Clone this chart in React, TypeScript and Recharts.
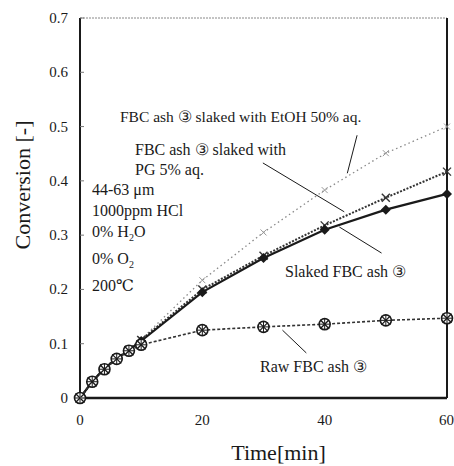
import { Label, Line, LineChart, ReferenceLine, XAxis, YAxis } from 'recharts'

const TIME = [0, 2, 4, 6, 8, 10, 20, 30, 40, 50, 60]
const RAW = [0, 0.03, 0.053, 0.072, 0.087, 0.098, 0.125, 0.131, 0.136, 0.143, 0.147]
const SLAKED = [0, 0.03, 0.055, 0.072, 0.088, 0.105, 0.195, 0.258, 0.31, 0.347, 0.376]
const PG = [0, 0.03, 0.055, 0.073, 0.089, 0.107, 0.2, 0.262, 0.318, 0.369, 0.417]
const ETOH = [0, 0.03, 0.055, 0.074, 0.09, 0.108, 0.217, 0.305, 0.383, 0.451, 0.5]

const X_TICKS = [0, 20, 40, 60]
const Y_TICKS = [0, 0.1, 0.2, 0.3, 0.4, 0.5, 0.6, 0.7]

// leader lines, in data units
const LEADERS = [
  [{ x: 45.3, y: 0.484 }, { x: 43.7, y: 0.414 }],
  [{ x: 29.9, y: 0.433 }, { x: 43.2, y: 0.343 }],
  [{ x: 42.4, y: 0.315 }, { x: 49.3, y: 0.267 }],
  [{ x: 33.1, y: 0.125 }, { x: 37.0, y: 0.083 }],
]

const data = TIME.map((t, i) => ({ t, raw: RAW[i], slaked: SLAKED[i], pg: PG[i], etoh: ETOH[i] }))

const SERIF = '"Liberation Serif", "DejaVu Serif", serif'
const INK = '#1a1a1a'

const YTick = (props: any) => {
  const { x, y, payload } = props
  const v = payload.value
  return (
    <g>
      <text x={x} y={y} dy={5} textAnchor="end" fontSize={15} fontFamily={SERIF} fill={INK}>
        {v === 0 ? '0' : v.toFixed(1)}
      </text>
      <line x1={x + 12} x2={x + 16} y1={y} y2={y} stroke="#777" strokeWidth={1} />
    </g>
  )
}

const RawDot = (p: any) => {
  const { cx, cy } = p
  if (cx == null || cy == null) return null
  const r = 5.5
  return (
    <g key={`raw-${p.index}`}>
      <circle cx={cx} cy={cy} r={r} fill="#fff" stroke={INK} strokeWidth={1.6} />
      <line x1={cx - r + 1} y1={cy - r + 1} x2={cx + r - 1} y2={cy + r - 1} stroke={INK} strokeWidth={1.3} />
      <line x1={cx - r + 1} y1={cy + r - 1} x2={cx + r - 1} y2={cy - r + 1} stroke={INK} strokeWidth={1.3} />
      <line x1={cx - r} y1={cy} x2={cx + r} y2={cy} stroke={INK} strokeWidth={1} />
      <line x1={cx} y1={cy - r} x2={cx} y2={cy + r} stroke={INK} strokeWidth={1} />
    </g>
  )
}

const Diamond = (p: any) => {
  const { cx, cy } = p
  if (cx == null || cy == null) return null
  const s = 5
  return (
    <polygon
      key={`dia-${p.index}`}
      points={`${cx},${cy - s} ${cx + s},${cy} ${cx},${cy + s} ${cx - s},${cy}`}
      fill={INK}
    />
  )
}

const makeCross = (size: number, color: string, w: number, tag: string) => (p: any) => {
  const { cx, cy } = p
  if (cx == null || cy == null) return null
  return (
    <g key={`${tag}-${p.index}`}>
      <line x1={cx - size} y1={cy - size} x2={cx + size} y2={cy + size} stroke={color} strokeWidth={w} />
      <line x1={cx - size} y1={cy + size} x2={cx + size} y2={cy - size} stroke={color} strokeWidth={w} />
    </g>
  )
}

const PgDot = makeCross(4, '#333', 1.4, 'pg')
const EtohDot = makeCross(3, '#999', 1, 'et')

const txt = { position: 'absolute' as const, fontFamily: SERIF, fontSize: 16, color: INK, whiteSpace: 'nowrap' as const }

export default function App() {
  return (
    <div style={{ position: 'absolute', left: 0, top: 0, width: 454, height: 466, background: '#fff' }}>
      <LineChart width={454} height={466} data={data} margin={{ top: 18, right: 7, left: 0, bottom: 0 }}>
        <XAxis
          dataKey="t"
          type="number"
          domain={[0, 60]}
          ticks={X_TICKS}
          height={68}
          tickSize={14}
          tickMargin={2}
          tickLine={false}
          axisLine={{ stroke: INK, strokeWidth: 2.5 }}
          tick={{ fill: INK, fontSize: 15, fontFamily: SERIF }}
        >
          <Label value="Time[min]" position="insideBottom" offset={6} dx={15} fontSize={22} fontFamily={SERIF} fill={INK} />
        </XAxis>
        <YAxis
          type="number"
          domain={[0, 0.7]}
          ticks={Y_TICKS}
          width={80}
          tickSize={10}
          tickMargin={2}
          tickLine={false}
          axisLine={{ stroke: INK, strokeWidth: 2 }}
          tick={<YTick />}
          label={{
            content: () => (
              <text
                x={22}
                y={185}
                transform="rotate(-90, 22, 185)"
                textAnchor="middle"
                dominantBaseline="central"
                fontSize={22}
                fontFamily={SERIF}
                fill={INK}
              >
                Conversion [-]
              </text>
            ),
          }}
        />
        <ReferenceLine y={0.7} stroke="#888" strokeWidth={1} strokeDasharray="2 1" />
        <ReferenceLine x={60} stroke={INK} strokeWidth={2} />
        {LEADERS.map((seg, i) => (
          <ReferenceLine key={i} segment={seg} stroke={INK} strokeWidth={1} />
        ))}
        <Line
          dataKey="etoh"
          type="linear"
          stroke="#888"
          strokeWidth={1.3}
          strokeDasharray="1.5 3"
          dot={EtohDot}
          activeDot={false}
          isAnimationActive={false}
        />
        <Line
          dataKey="pg"
          type="linear"
          stroke="#333"
          strokeWidth={2}
          strokeDasharray="2 1.5"
          dot={PgDot}
          activeDot={false}
          isAnimationActive={false}
        />
        <Line
          dataKey="slaked"
          type="linear"
          stroke={INK}
          strokeWidth={2.2}
          dot={Diamond}
          activeDot={false}
          isAnimationActive={false}
        />
        <Line
          dataKey="raw"
          type="linear"
          stroke="#333"
          strokeWidth={1.6}
          strokeDasharray="3 2"
          dot={RawDot}
          activeDot={false}
          isAnimationActive={false}
        />
      </LineChart>

      <div style={{ ...txt, left: 120, top: 108, lineHeight: '18px', fontSize: 15.5 }}>FBC ash ③ slaked with EtOH 50% aq.</div>
      <div style={{ ...txt, left: 135, top: 140, lineHeight: '20px' }}>
        FBC ash ③ slaked with
        <br />
        PG 5% aq.
      </div>
      <div style={{ ...txt, left: 92, top: 180, lineHeight: '20.8px' }}>
        44-63 μm
        <br />
        1000ppm HCl
        <br />
        0% H<sub style={{ fontSize: 10 }}>2</sub>O
        <br />
        0% O<sub style={{ fontSize: 10 }}>2</sub>
        <br />
        200℃
      </div>
      <div style={{ ...txt, left: 285, top: 263, lineHeight: '18px' }}>Slaked FBC ash ③</div>
      <div style={{ ...txt, left: 260, top: 358, lineHeight: '18px' }}>Raw FBC ash ③</div>
    </div>
  )
}
